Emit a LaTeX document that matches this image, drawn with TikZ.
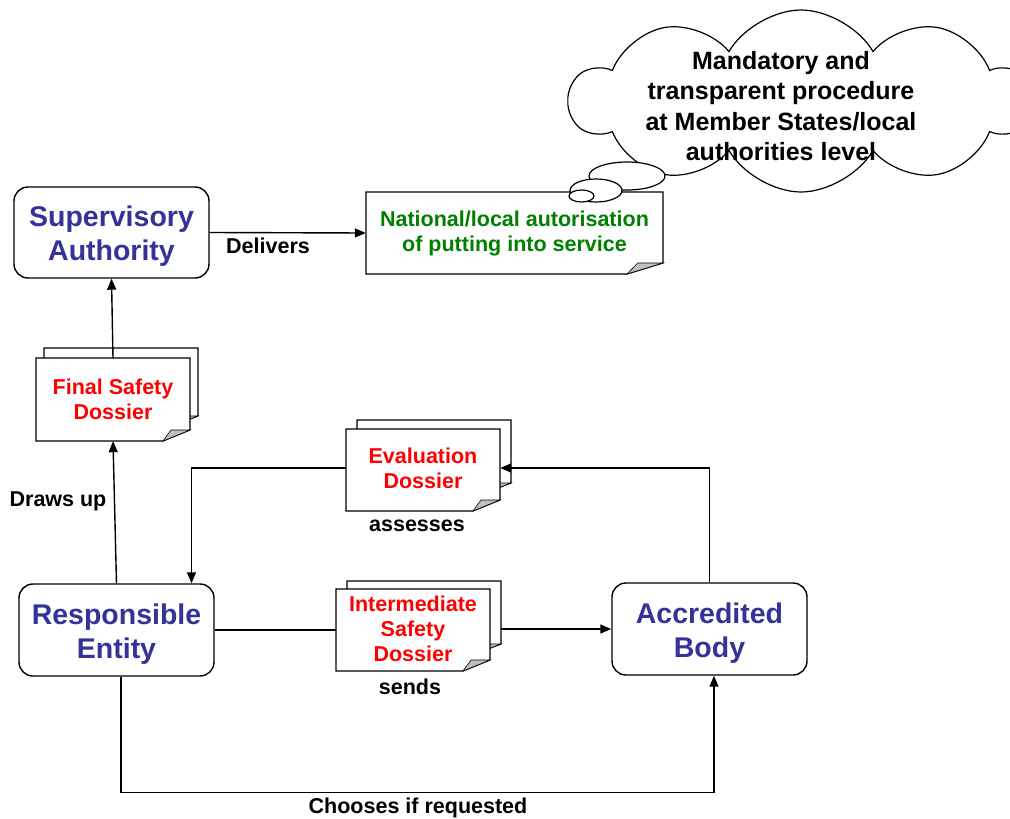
\documentclass[tikz,border=0pt]{standalone}
\usepackage{fontspec}
\setmainfont{Liberation Sans}
\usetikzlibrary{arrows.meta,shapes.symbols}

\definecolor{boxblue}{RGB}{51,51,153}
\definecolor{docred}{RGB}{255,0,0}
\definecolor{docgreen}{RGB}{0,128,0}

% extra room above the first line of an actor's name
\newcommand\actorpad{\rule{0pt}{28pt}}

\tikzset{
  actor/.style={draw, line width=1.4pt, rounded corners=14pt, fill=white,
    text=boxblue, align=center, font=\bfseries\fontsize{28.5}{34}\selectfont},
  doctext/.style={align=center, inner sep=0pt, text=docred,
    font=\bfseries\fontsize{21.5}{25}\selectfont},
  lbl/.style={font=\bfseries\fontsize{21.5}{25}\selectfont},
  sheetline/.style={line width=1.2pt, fill=white},
  curlflap/.style={line width=0.6pt, fill=black!25},
  link/.style={line width=1.4pt},
  arr/.style={link, -{Triangle[length=11pt,width=9pt]}},
}

% one sheet of paper with a curled bottom-right corner:
% left, top, right, bottom, curl width, curl height
\newcommand\papersheet[6]{%
  \draw[sheetline] (#1,#2) -- (#3,#2) -- (#3,#4-#6) -- (#3-#5,#4) -- (#1,#4) -- cycle;
  \filldraw[curlflap] (#3-#5,#4) .. controls (#3-0.85*#5,#4-0.5*#6) and (#3-0.75*#5,#4-0.85*#6) .. (#3-0.7*#5,#4-#6) -- (#3,#4-#6) -- cycle;
}

\begin{document}
\begin{tikzpicture}[x=1pt, y=-1pt]
  \useasboundingbox (0,0) rectangle (1010,819);

  % ---- actors ----
  \node[actor, minimum width=195pt, minimum height=91pt] (sa) at (111.5,232.5) {\actorpad Supervisory\\Authority};
  \node[actor, minimum width=195pt, minimum height=92pt] (re) at (116.5,630) {\actorpad Responsible\\Entity};
  \node[actor, minimum width=195pt, minimum height=92pt] (ab) at (709.5,629) {\actorpad Accredited\\Body};

  % ---- dossiers ----
  \papersheet{44}{348}{198}{426}{26}{10}
  \papersheet{36}{358}{190}{441}{27}{11}
  \node[doctext, minimum width=154pt, minimum height=83pt] (fsd) at (113,399.5) {Final Safety\\Dossier};

  \papersheet{357}{420}{511}{493}{26}{10}
  \papersheet{346}{429}{500}{511}{27}{11}
  \node[doctext, minimum width=154pt, minimum height=82pt] (ed) at (423,468) {Evaluation\\Dossier};

  \papersheet{347}{581}{501}{654}{26}{10}
  \papersheet{336}{589}{490}{671}{27}{11}
  \node[doctext, minimum width=154pt, minimum height=82pt] (isd) at (413,629) {Intermediate\\Safety\\Dossier};

  \papersheet{366}{192}{663}{274}{36}{11}
  \node[doctext, text=docgreen, minimum width=297pt, minimum height=82pt] (nat) at (514.5,233) {National/local autorisation\\of putting into service};

  % ---- thought cloud ----
  \node[cloud, draw, line width=1.2pt, fill=white, cloud puffs=10, cloud puff arc=120,
        cloud ignores aspect, inner sep=0pt, outer sep=0pt,
        minimum width=462pt, minimum height=182pt] (cl) at (801,101) {};
  \node[align=center, font=\bfseries\fontsize{25}{30.5}\selectfont] (cltext) at (781,106)
    {Mandatory and\\transparent procedure\\at Member States/local\\authorities level};
  \draw[line width=1.2pt, fill=white] (627,176) ellipse [x radius=38pt, y radius=14pt];
  \draw[line width=1.2pt, fill=white] (596,190.5) ellipse [x radius=26pt, y radius=11.5pt];
  \draw[line width=1.2pt, fill=white] (581.5,196) ellipse [x radius=12.5pt, y radius=6pt];

  % ---- connectors ----
  \draw[arr] (sa.east) -- (nat.west);
  \draw[arr] (fsd.north) -- (sa.south);
  \draw[arr] (re.north) -- (fsd.south);
  \draw[arr] (ab.north) |- (ed.east);
  \draw[arr] (ed.west) -| ([xshift=75pt]re.north);
  \draw[link] (re.east) -- (re.east -| isd.west);
  \draw[arr] ([xshift=11pt]isd.east) -- (ab.west);
  \draw[arr] ([xshift=4.5pt]re.south) -- ++(0,116) -| ([xshift=4.5pt]ab.south);

  % ---- connector labels ----
  \node[lbl] (l-deliv) at (268,246) {Delivers};
  \node[lbl] (l-draws) at (58,501) {Draws up};
  \node[lbl] (l-assess) at (417,526) {assesses};
  \node[lbl] (l-sends) at (410,687) {sends};
  \node[lbl] (l-choose) at (418,808) {Chooses if requested};
\end{tikzpicture}
\end{document}
